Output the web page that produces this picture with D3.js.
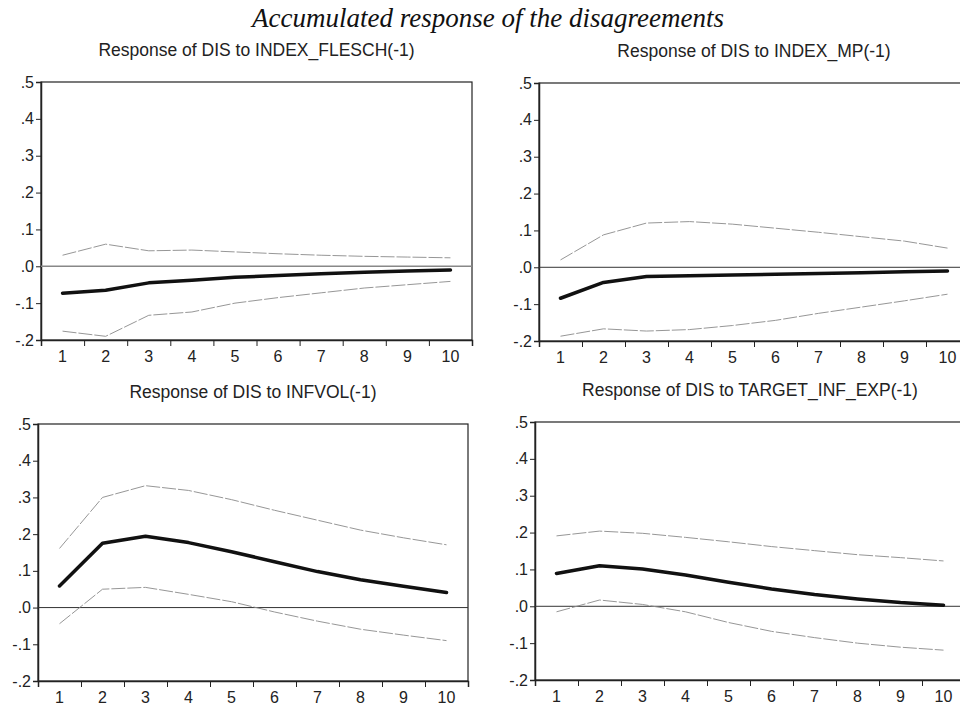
<!DOCTYPE html>
<html>
<head>
<meta charset="utf-8">
<script src="https://cdn.jsdelivr.net/npm/d3@7"></script>
<style>
  body { margin: 0; background: #fff; }
  svg { display: block; }
</style>
</head>
<body>
<div id="chart"></div>
<script>
// Periods and y ticks
const periods = [1, 2, 3, 4, 5, 6, 7, 8, 9, 10];
const yTicks = [-0.2, -0.1, 0, 0.1, 0.2, 0.3, 0.4, 0.5];
const yTickLabels = ["-.2", "-.1", ".0", ".1", ".2", ".3", ".4", ".5"];

const mainTitle = "Accumulated response of the disagreements";
const panelTitles = [
  "Response of DIS to INDEX_FLESCH(-1)",
  "Response of DIS to INDEX_MP(-1)",
  "Response of DIS to INFVOL(-1)",
  "Response of DIS to TARGET_INF_EXP(-1)"
];

// Accumulated responses
const fleschMean  = [-0.073, -0.065, -0.045, -0.038, -0.030, -0.025, -0.020, -0.016, -0.013, -0.010];
const fleschUpper = [0.030, 0.060, 0.042, 0.044, 0.039, 0.034, 0.030, 0.027, 0.025, 0.023];
const fleschLower = [-0.176, -0.190, -0.133, -0.124, -0.100, -0.085, -0.072, -0.059, -0.050, -0.041];

const mpMean  = [-0.084, -0.041, -0.025, -0.023, -0.021, -0.019, -0.017, -0.015, -0.012, -0.010];
const mpUpper = [0.020, 0.088, 0.120, 0.124, 0.117, 0.106, 0.095, 0.083, 0.071, 0.052];
const mpLower = [-0.187, -0.167, -0.173, -0.169, -0.158, -0.144, -0.125, -0.108, -0.091, -0.073];

const infvolMean  = [0.059, 0.175, 0.194, 0.177, 0.152, 0.125, 0.098, 0.076, 0.058, 0.041];
const infvolUpper = [0.161, 0.300, 0.332, 0.319, 0.294, 0.265, 0.238, 0.211, 0.190, 0.171];
const infvolLower = [-0.044, 0.050, 0.055, 0.036, 0.016, -0.012, -0.037, -0.059, -0.075, -0.090];

const targetMean  = [0.089, 0.110, 0.101, 0.085, 0.065, 0.047, 0.032, 0.020, 0.010, 0.003];
const targetUpper = [0.191, 0.204, 0.198, 0.187, 0.175, 0.162, 0.151, 0.140, 0.132, 0.123];
const targetLower = [-0.015, 0.017, 0.005, -0.015, -0.044, -0.068, -0.085, -0.100, -0.111, -0.119];

const panelSeries = [
  [fleschMean, fleschUpper, fleschLower],
  [mpMean, mpUpper, mpLower],
  [infvolMean, infvolUpper, infvolLower],
  [targetMean, targetUpper, targetLower]
];

// Panel frames in page pixels
const frames = [
  { left: 41, right: 472, top: 82, bottom: 340, titleY: 56 },
  { left: 539, right: 969, top: 83, bottom: 341, titleY: 57 },
  { left: 38, right: 468, top: 424, bottom: 681, titleY: 398 },
  { left: 535, right: 965, top: 422, bottom: 680, titleY: 396 }
];

const svg = d3.select("#chart").append("svg")
  .attr("width", 960)
  .attr("height", 705);

// Main title
svg.append("text")
  .attr("x", 488)
  .attr("y", 27)
  .attr("text-anchor", "middle")
  .style("font-family", "'Liberation Serif', 'Times New Roman', serif")
  .style("font-style", "italic")
  .style("font-size", "27px")
  .style("fill", "#111")
  .text(mainTitle);

frames.forEach((f, i) => {
  const x = d3.scaleLinear().domain([0.5, 10.5]).range([f.left, f.right]);
  const y = d3.scaleLinear().domain([-0.2, 0.5]).range([f.bottom, f.top]);
  const g = svg.append("g");

  // Panel title
  g.append("text")
    .attr("x", (f.left + f.right) / 2)
    .attr("y", f.titleY)
    .attr("text-anchor", "middle")
    .style("font-family", "'Liberation Sans', Arial, sans-serif")
    .style("font-size", "17.5px")
    .style("fill", "#222")
    .text(panelTitles[i]);

  // Frame
  g.append("rect")
    .attr("x", f.left)
    .attr("y", f.top)
    .attr("width", f.right - f.left)
    .attr("height", f.bottom - f.top)
    .attr("fill", "none")
    .attr("stroke", "#222")
    .attr("stroke-width", 1.2);

  // Y axis
  const yAxis = d3.axisLeft(y)
    .tickValues(yTicks)
    .tickFormat((d, k) => yTickLabels[k])
    .tickSize(5)
    .tickPadding(2);
  g.append("g")
    .attr("transform", `translate(${f.left},0)`)
    .call(yAxis)
    .call(a => a.select(".domain").attr("stroke", "#222").attr("stroke-width", 1.5))
    .call(a => a.selectAll("line").attr("stroke", "#222"))
    .call(a => a.selectAll("text")
      .style("font-family", "'Liberation Sans', Arial, sans-serif")
      .style("font-size", "16px")
      .style("fill", "#222"));

  // X axis: ticks at boundaries, labels at centres
  const bounds = d3.range(0.5, 11, 1);
  const xAxis = d3.axisBottom(x).tickValues(bounds).tickFormat("").tickSize(6);
  g.append("g")
    .attr("transform", `translate(0,${f.bottom})`)
    .call(xAxis)
    .call(a => a.select(".domain").attr("stroke", "#222").attr("stroke-width", 1.5))
    .call(a => a.selectAll("line").attr("stroke", "#222"));

  g.selectAll(".xlab")
    .data(periods)
    .join("text")
    .attr("x", d => x(d))
    .attr("y", f.bottom + 22)
    .attr("text-anchor", "middle")
    .style("font-family", "'Liberation Sans', Arial, sans-serif")
    .style("font-size", "16px")
    .style("fill", "#222")
    .text(d => d);

  // Zero line
  g.append("line")
    .attr("x1", f.left)
    .attr("x2", f.right)
    .attr("y1", y(0))
    .attr("y2", y(0))
    .attr("stroke", i === 0 ? "#888" : "#333")
    .attr("stroke-width", i === 0 ? 1.6 : 1);

  const [mean, upper, lower] = panelSeries[i];

  const line = d3.line()
    .x((d, k) => x(periods[k]))
    .y(d => y(d));

  [upper, lower].forEach(s => {
    g.append("path")
      .datum(s)
      .attr("d", line)
      .attr("fill", "none")
      .attr("stroke", "#8a8a8a")
      .attr("stroke-width", 0.9)
      .attr("stroke-dasharray", "14,2");
  });

  g.append("path")
    .datum(mean)
    .attr("d", line)
    .attr("fill", "none")
    .attr("stroke", "#111")
    .attr("stroke-width", 3.5)
    .attr("stroke-linejoin", "round")
    .attr("stroke-linecap", "round");
});
</script>
</body>
</html>
